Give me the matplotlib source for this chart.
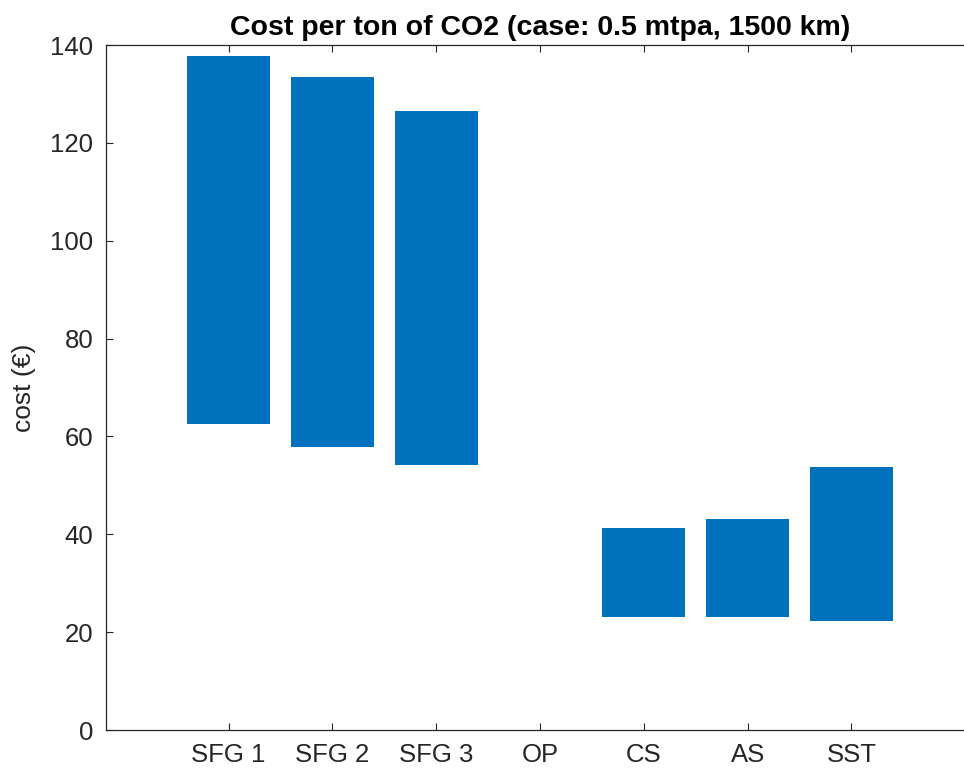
import matplotlib.pyplot as plt
import numpy as np

plt.rcParams['font.family'] = ['Liberation Sans', 'DejaVu Sans']

# floating bars: lower and upper cost per category
categories = ['SFG 1', 'SFG 2', 'SFG 3', 'OP', 'CS', 'AS', 'SST']
cost_low = [62.6, 57.9, 54.2, np.nan, 23.1, 23.1, 22.3]
cost_high = [137.7, 133.4, 126.5, np.nan, 41.3, 43.2, 53.8]

low = np.array(cost_low)
high = np.array(cost_high)
x = np.arange(1, len(categories) + 1)

fig = plt.figure(figsize=(9.64, 7.73), dpi=100)
# axes box runs past the right edge of the image, like the cropped original
ax = fig.add_axes([106 / 964, 1 - 730 / 773, 868 / 964, 685 / 773])

ax.bar(x, high - low, bottom=low, width=0.8, color='#0072BD')

ax.set_xlim(-0.18, 8.18)
ax.set_ylim(0, 140)
ax.set_xticks(x)
ax.set_xticklabels(categories)
ax.set_yticks(np.arange(0, 141, 20))
ax.tick_params(direction='in', length=5, width=0.8, labelsize=18.5,
               top=True, right=False, colors='#262626', pad=9)
for s in ax.spines.values():
    s.set_color('#262626')
    s.set_linewidth(0.9)
ax.spines['right'].set_visible(False)

ax.set_ylabel('cost (€)', fontsize=19, color='#262626', labelpad=10)
ax.set_title('Cost per ton of CO2 (case: 0.5 mtpa, 1500 km)',
             fontsize=20.5, fontweight='bold', pad=7)

fig.savefig('out.png', dpi=100)
